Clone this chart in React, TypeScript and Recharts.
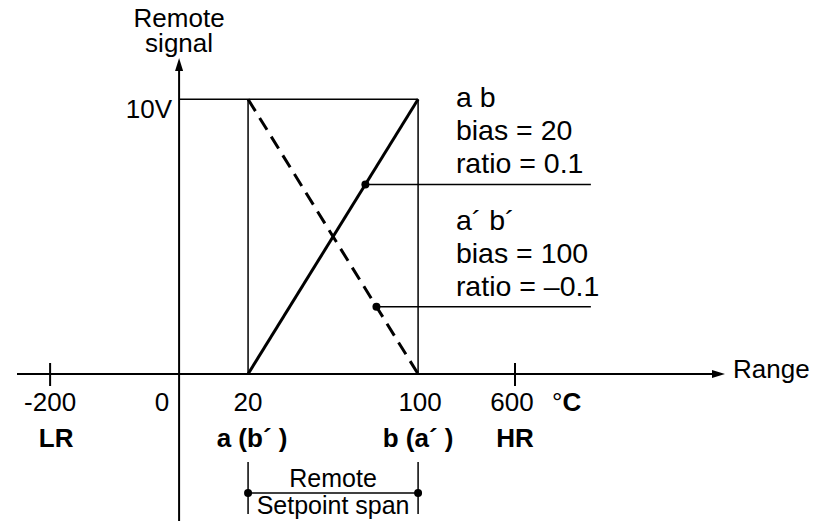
import React from 'react';
import { ComposedChart, Line, XAxis, YAxis, ReferenceLine, ReferenceDot } from 'recharts';

// axis ticks: temperature labels and their place on the (broken) schematic axis
const tickTemps = [-200, 0, 20, 100, 600];
const tickPos = [-37.4, 0, 20, 69.3, 97.4];
const tickSubLabels = ['LR', '', 'a (b´ )', 'b (a´ )', 'HR'];
const tickMarked = [true, false, false, false, true];

// remote setpoint span a..b (°C) and the remote signal (V) at each end
const spanTemps = [20, 100];
const signalAB = [0, 10];
const signalAbPrime = [10, 0];

// label blocks for the two settings
const settingNames = ['a b', 'a´ b´'];
const biasValues = ['20', '100'];
const ratioValues = ['0.1', '–0.1'];
const leaderSignals = [6.9, 2.45];

const FONT = '"Liberation Sans", Arial, Helvetica, sans-serif';
const FS = 26;
const FS_NOTE = 28.5;
const FS_TITLE = 26;
const FS_SPAN = 25;
const X_DOMAIN: [number, number] = [-47, 158];
const Y_DOMAIN: [number, number] = [0, 11.5];
const Y_BOTTOM = -5.4;
const LEADER_END = 119.4;
const BRACKET_Y = -4.33;

const posOf = (t: number) => tickPos[tickTemps.indexOf(t)];
const p0 = posOf(spanTemps[0]);
const p1 = posOf(spanTemps[1]);

const lineAB = spanTemps.map((t, i) => ({ x: posOf(t), v: signalAB[i] }));
const lineAbPrime = spanTemps.map((t, i) => ({ x: posOf(t), v: signalAbPrime[i] }));

// x on each line where the leader dot sits
const leaderX = [
  p0 + ((p1 - p0) * (leaderSignals[0] - signalAB[0])) / (signalAB[1] - signalAB[0]),
  p0 + ((p1 - p0) * (leaderSignals[1] - signalAbPrime[0])) / (signalAbPrime[1] - signalAbPrime[0]),
];

const AxisTick = ({ x, y, payload, index }: any) => {
  const i = tickPos.indexOf(payload.value);
  const k = i < 0 ? index : i;
  const dx = tickTemps[k] === 0 ? -17 : tickTemps[k] === 100 ? 2 : tickTemps[k] === 600 ? -3 : 0;
  return (
    <g fontFamily={FONT} fontSize={FS} fill="#000">
      {tickMarked[k] && <line x1={x} x2={x} y1={y - 11} y2={y + 12} stroke="#000" strokeWidth={2} />}
      <text x={x + dx} y={y + 37} textAnchor="middle" fill="#000">
        {tickTemps[k]}
      </text>
      {tickTemps[k] === 600 && (
        <text x={x + 37} y={y + 37} fill="#000">
          °<tspan fontWeight="bold">C</tspan>
        </text>
      )}
      {tickSubLabels[k] && (
        <text x={x + (k === 0 ? 6 : k === 2 ? 4 : 0)} y={y + 73} textAnchor="middle" fontWeight="bold" fill="#000">
          {tickSubLabels[k]}
        </text>
      )}
    </g>
  );
};

const YAxisShape = (props: any) => {
  const { x1, y1, x2, y2 } = props;
  const top = Math.min(y1, y2);
  const bot = Math.max(y1, y2);
  return (
    <g>
      <line x1={x1} x2={x2} y1={bot} y2={top + 10} stroke="#000" strokeWidth={2} />
      <polygon points={`${x1},${top} ${x1 - 4},${top + 13} ${x1 + 4},${top + 13}`} fill="#000" />
      <text x={x1} y={top - 31} textAnchor="middle" fontFamily={FONT} fontSize={FS_TITLE} fill="#000">Remote</text>
      <text x={x1} y={top - 6} textAnchor="middle" fontFamily={FONT} fontSize={FS_TITLE} fill="#000">signal</text>
    </g>
  );
};

const XAxisShape = (props: any) => {
  const { x1, y1, x2 } = props;
  const left = Math.min(x1, x2);
  const right = Math.max(x1, x2) + 1;
  return (
    <g>
      <line x1={left} x2={right - 10} y1={y1} y2={y1} stroke="#000" strokeWidth={2} />
      <polygon points={`${right},${y1} ${right - 13},${y1 - 4} ${right - 13},${y1 + 4}`} fill="#000" />
      <text x={right + 8} y={y1 + 4} fontFamily={FONT} fontSize={FS} fill="#000">Range</text>
    </g>
  );
};

const FullScaleShape = (props: any) => {
  const { x1, y1, x2, y2 } = props;
  return (
    <g>
      <line x1={x1} x2={x2} y1={y1} y2={y2} stroke="#000" strokeWidth={1.5} />
      <text x={Math.min(x1, x2) - 7} y={y1 + 19} textAnchor="end" fontFamily={FONT} fontSize={FS} fill="#000">10V</text>
    </g>
  );
};

const makeLeaderShape = (idx: number) => (props: any) => {
  const { x1, y1, x2, y2 } = props;
  const tx = Math.max(x1, x2) - 135;
  const lines = [settingNames[idx], `bias = ${biasValues[idx]}`, `ratio = ${ratioValues[idx]}`];
  return (
    <g>
      <line x1={x1} x2={x2} y1={y1} y2={y2} stroke="#000" strokeWidth={1.5} />
      {lines.map((s, j) => (
        <text key={j} x={tx} y={y1 - 11 - (2 - j) * 33} fontFamily={FONT} fontSize={FS_NOTE} fill="#000">
          {s}
        </text>
      ))}
    </g>
  );
};

const BracketShape = (props: any) => {
  const { x1, y1, x2 } = props;
  const l = Math.min(x1, x2);
  const r = Math.max(x1, x2);
  const cx = (l + r) / 2;
  return (
    <g>
      <line x1={l} x2={r} y1={y1} y2={y1} stroke="#000" strokeWidth={1.5} />
      <line x1={l} x2={l} y1={y1 - 31} y2={y1 + 21} stroke="#000" strokeWidth={1.5} />
      <line x1={r} x2={r} y1={y1 - 31} y2={y1 + 21} stroke="#000" strokeWidth={1.5} />
      <circle cx={l} cy={y1} r={4} fill="#000" />
      <circle cx={r} cy={y1} r={4} fill="#000" />
      <text x={cx} y={y1 - 6} textAnchor="middle" fontFamily={FONT} fontSize={FS_SPAN} fill="#000">Remote</text>
      <text x={cx} y={y1 + 21} textAnchor="middle" fontFamily={FONT} fontSize={FS_SPAN} fill="#000">Setpoint span</text>
    </g>
  );
};

export default function App() {
  return (
    <div style={{ position: 'absolute', left: 0, top: 0, width: 827, height: 521, background: '#fff' }}>
      <ComposedChart width={827} height={521} margin={{ top: 58, right: 103, bottom: 0, left: 17 }}>
        <XAxis
          type="number"
          dataKey="x"
          domain={X_DOMAIN}
          ticks={tickPos}
          allowDataOverflow
          axisLine={false}
          tickLine={false}
          tickSize={0}
          tickMargin={0}
          height={147}
          tick={<AxisTick />}
          interval={0}
        />
        <YAxis type="number" domain={Y_DOMAIN} allowDataOverflow hide width={0} />

        <ReferenceLine segment={[{ x: p0, y: 0 }, { x: p0, y: 10 }]} stroke="#000" strokeWidth={1.5} />
        <ReferenceLine segment={[{ x: p1, y: 0 }, { x: p1, y: 10 }]} stroke="#000" strokeWidth={1.5} />
        <ReferenceLine segment={[{ x: 0, y: 10 }, { x: p1, y: 10 }]} shape={FullScaleShape} />

        <ReferenceLine segment={[{ x: leaderX[0], y: leaderSignals[0] }, { x: LEADER_END, y: leaderSignals[0] }]} shape={makeLeaderShape(0)} />
        <ReferenceLine segment={[{ x: leaderX[1], y: leaderSignals[1] }, { x: LEADER_END, y: leaderSignals[1] }]} shape={makeLeaderShape(1)} />

        <ReferenceLine segment={[{ x: X_DOMAIN[0], y: 0 }, { x: X_DOMAIN[1], y: 0 }]} shape={XAxisShape} ifOverflow="visible" />
        <ReferenceLine segment={[{ x: 0, y: Y_BOTTOM }, { x: 0, y: Y_DOMAIN[1] }]} shape={YAxisShape} ifOverflow="visible" />
        <ReferenceLine segment={[{ x: p0, y: BRACKET_Y }, { x: p1, y: BRACKET_Y }]} shape={BracketShape} ifOverflow="visible" />

        <Line data={lineAB} dataKey="v" stroke="#000" strokeWidth={3} dot={false} isAnimationActive={false} />
        <Line data={lineAbPrime} dataKey="v" stroke="#000" strokeWidth={3} strokeDasharray="14 8" dot={false} isAnimationActive={false} />

        <ReferenceDot x={leaderX[0]} y={leaderSignals[0]} r={4} fill="#000" stroke="none" />
        <ReferenceDot x={leaderX[1]} y={leaderSignals[1]} r={4} fill="#000" stroke="none" />
      </ComposedChart>
    </div>
  );
}
